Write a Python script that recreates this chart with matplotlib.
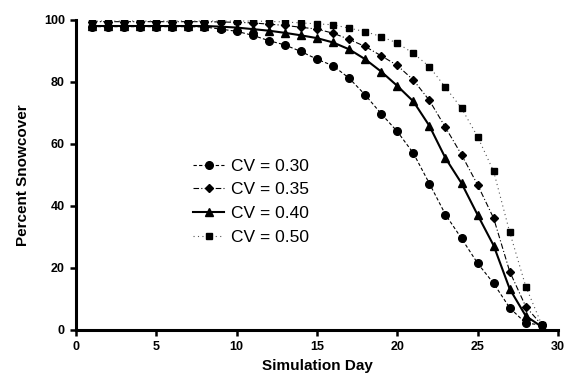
import numpy as np
import matplotlib
matplotlib.use("Agg")
import matplotlib.pyplot as plt

plt.rcParams['font.family'] = ['Liberation Sans', 'DejaVu Sans']

days = np.arange(1, 30)

cv30 = [97.8, 97.8, 97.8, 97.8, 97.8, 97.8, 97.8, 97.7, 97.0, 96.3,
        95.0, 93.3, 91.9, 89.8, 87.3, 85.2, 81.2, 75.8, 69.7, 64.0,
        57.0, 47.2, 37.2, 29.5, 21.5, 15.0, 7.1, 2.2, 1.6]
cv35 = [99.4, 99.4, 99.4, 99.4, 99.4, 99.4, 99.4, 99.4, 99.3, 99.2,
        99.0, 98.6, 98.2, 97.6, 97.0, 95.7, 93.7, 91.4, 88.4, 85.3,
        80.6, 74.0, 65.3, 56.5, 46.8, 36.0, 18.8, 7.5, 1.6]
cv40 = [98.0, 98.0, 98.0, 98.0, 98.0, 98.0, 98.0, 98.0, 97.8, 97.5,
        97.0, 96.5, 95.8, 95.0, 94.1, 92.7, 90.5, 87.3, 83.3, 78.7,
        73.7, 65.8, 55.4, 47.3, 37.1, 27.2, 13.2, 4.5, 1.0]
cv50 = [99.6, 99.6, 99.6, 99.6, 99.6, 99.6, 99.6, 99.6, 99.6, 99.6,
        99.6, 99.5, 99.3, 99.0, 98.7, 98.4, 97.3, 96.2, 94.6, 92.5,
        89.2, 84.9, 78.2, 71.5, 62.3, 51.1, 31.5, 14.0, 1.6]

labels = ["CV = 0.30", "CV = 0.35", "CV = 0.40", "CV = 0.50"]

fig = plt.figure(figsize=(5.67, 3.81), dpi=100)
ax = fig.add_axes([0.134, 0.134, 0.850, 0.814])

ax.plot(days, cv30, color='black', linestyle=(0, (3, 2)), lw=0.8,
        marker='o', ms=5.5, label=labels[0])
ax.plot(days, cv35, color='black', linestyle=(0, (5, 2, 1, 2)), lw=0.8,
        marker='D', ms=4.5, label=labels[1])
ax.plot(days, cv40, color='black', linestyle='-', lw=1.5,
        marker='^', ms=6, label=labels[2])
ax.plot(days, cv50, color='#555555', linestyle=(0, (1, 3)), lw=0.8,
        marker='s', ms=5, markerfacecolor='black', markeredgecolor='black',
        label=labels[3])

ax.set_xlim(0, 30)
ax.set_ylim(0, 100)
ax.set_xticks(range(0, 31, 5))
ax.set_yticks(range(0, 101, 20))

for side in ['top', 'right']:
    ax.spines[side].set_visible(False)
for side in ['left', 'bottom']:
    ax.spines[side].set_linewidth(2.2)
ax.tick_params(direction='out', length=4, width=1.8, labelsize=9, pad=4)
for lab in ax.get_xticklabels() + ax.get_yticklabels():
    lab.set_fontweight('bold')

ax.set_xlabel('Simulation Day', fontsize=11, fontweight='bold', labelpad=4)
ax.set_ylabel('Percent Snowcover', fontsize=11, fontweight='bold', labelpad=10)

ax.legend(loc='upper left', bbox_to_anchor=(0.243, 0.553), frameon=False,
          borderaxespad=0, borderpad=0, fontsize=12.5, handlelength=1.8,
          handletextpad=0.4, labelspacing=0.5)

fig.savefig('out.png', dpi=100)
